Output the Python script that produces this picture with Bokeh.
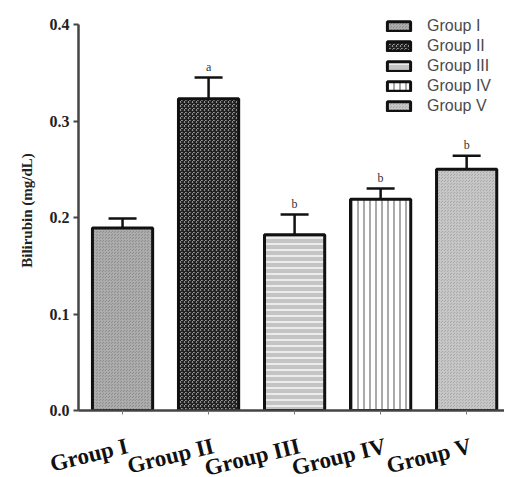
from bokeh.plotting import figure
from bokeh.models import (ColumnDataSource, Whisker, TeeHead, FixedTicker, Legend, LegendItem,
                          NumeralTickFormatter, Range1d)
from bokeh.core.properties import value
from bokeh.embed import file_html
from bokeh.resources import INLINE

groups = ["Group I", "Group II", "Group III", "Group IV", "Group V"]
means = [0.189, 0.323, 0.182, 0.219, 0.250]
errors = [0.010, 0.022, 0.021, 0.011, 0.014]
sig = ["", "a", "b", "b", "b"]
yticks = [0.0, 0.1, 0.2, 0.3, 0.4]

fills = ["#8e8e8e", "#ffffff", "#c4c4c4", "#ffffff", "#aaaaaa"]
hatches = ["criss_cross", "criss_cross", "horizontal_line", "vertical_line", "criss_cross"]
hcolors = ["#acacac", "#1a1a1a", "#ececec", "#aaaaaa", "#c6c6c6"]
hscales = [3, 4, 6, 6, 3]
hweights = [1, 1.25, 2, 2, 1]

xs = [i + 1 for i in range(len(groups))]

W = 504
LEFT = 78
TOP = 10
FRAME_H = 400
BOTTOM = 10
LABEL_H = 56
x0, x1 = 0.488, 5.44
ppu = (W - LEFT) / (x1 - x0)

p = figure(width=W, height=TOP + FRAME_H + BOTTOM, output_backend="svg", toolbar_location=None,
           x_range=Range1d(x0, x1), y_range=(0, 0.4 + 14 / 965.0),
           min_border_left=LEFT, min_border_right=0, min_border_top=TOP, min_border_bottom=BOTTOM)
p.outline_line_color = None
p.grid.visible = False
p.background_fill_color = "white"

items = []
for i in range(len(groups)):
    r = p.vbar(x=[xs[i]], top=[means[i]], width=0.7, bottom=0,
               fill_color=fills[i], hatch_pattern=hatches[i], hatch_color=hcolors[i],
               hatch_scale=hscales[i], hatch_weight=hweights[i],
               line_color="#111111", line_width=3)
    items.append(LegendItem(label=groups[i], renderers=[r]))

src = ColumnDataSource(dict(x=xs, top=means, upper=[m + e for m, e in zip(means, errors)], sig=sig))
w = Whisker(base="x", lower="top", upper="upper", source=src, dimension="height",
            line_color="#111111", line_width=2.5, lower_head=None,
            upper_head=TeeHead(size=28, line_color="#111111", line_width=2.5))
p.add_layout(w)

p.text(x="x", y="upper", text="sig", source=src, text_align="center", text_baseline="bottom",
       y_offset=-4, text_font=value("Liberation Serif"), text_font_size="12px", text_color="#333333")

legend = Legend(items=items, location=(306, 295), padding=0, margin=0, spacing=2,
                glyph_width=29, glyph_height=12, label_height=13, label_standoff=14,
                label_text_font="Liberation Sans", label_text_font_size="16px",
                label_text_color="#4a4a4a", border_line_color=None, background_fill_alpha=0)
p.add_layout(legend)

ya = p.yaxis[0]
ya.ticker = FixedTicker(ticks=yticks)
ya.formatter = NumeralTickFormatter(format="0.0")
ya.bounds = (0, 0.4)
ya.axis_line_width = 2.5
ya.axis_line_color = "#444444"
ya.major_tick_line_color = "#444444"
ya.major_tick_line_width = 2
ya.major_tick_in = 0
ya.major_tick_out = 5
ya.minor_tick_line_color = None
ya.major_label_text_font = "Liberation Serif"
ya.major_label_text_font_style = "bold"
ya.major_label_text_font_size = "16px"
ya.major_label_text_color = "#222222"
ya.major_label_standoff = 4
ya.axis_label = "Bilirubin (mg/dL)"
ya.axis_label_text_font = "Liberation Serif"
ya.axis_label_text_font_style = "bold"
ya.axis_label_text_font_size = "15px"
ya.axis_label_text_color = "#222222"
ya.axis_label_standoff = 12

xa = p.xaxis[0]
xa.ticker = FixedTicker(ticks=xs)
xa.major_label_overrides = {x: "" for x in xs}
xa.major_label_text_font_size = "0px"
xa.major_label_standoff = 0
xa.axis_line_width = 2.5
xa.axis_line_color = "#444444"
xa.major_tick_line_color = "#777777"
xa.major_tick_line_width = 1
xa.major_tick_in = 0
xa.major_tick_out = 4
xa.minor_tick_line_color = None

# category labels strip below the chart, on the same x scale (offset by the left border)
p2 = figure(width=W, height=LABEL_H, output_backend="svg", toolbar_location=None,
            x_range=Range1d(x0 - LEFT / ppu, x1), y_range=Range1d(0, 1),
            x_axis_location=None, y_axis_location=None,
            min_border_left=0, min_border_right=0, min_border_top=0, min_border_bottom=0)
p2.outline_line_color = None
p2.grid.visible = False
lsrc = ColumnDataSource(dict(x=xs, name=groups, top=[1.0] * len(xs)))
p2.text(x="x", y="top", text="name", source=lsrc, text_align="right", text_baseline="alphabetic",
        angle=0.24, x_offset=5, y_offset=25, text_font=value("Liberation Serif"),
        text_font_style="bold", text_font_size="23px", text_color="#111111")

open("out.html", "w").write(file_html([p, p2], INLINE))
